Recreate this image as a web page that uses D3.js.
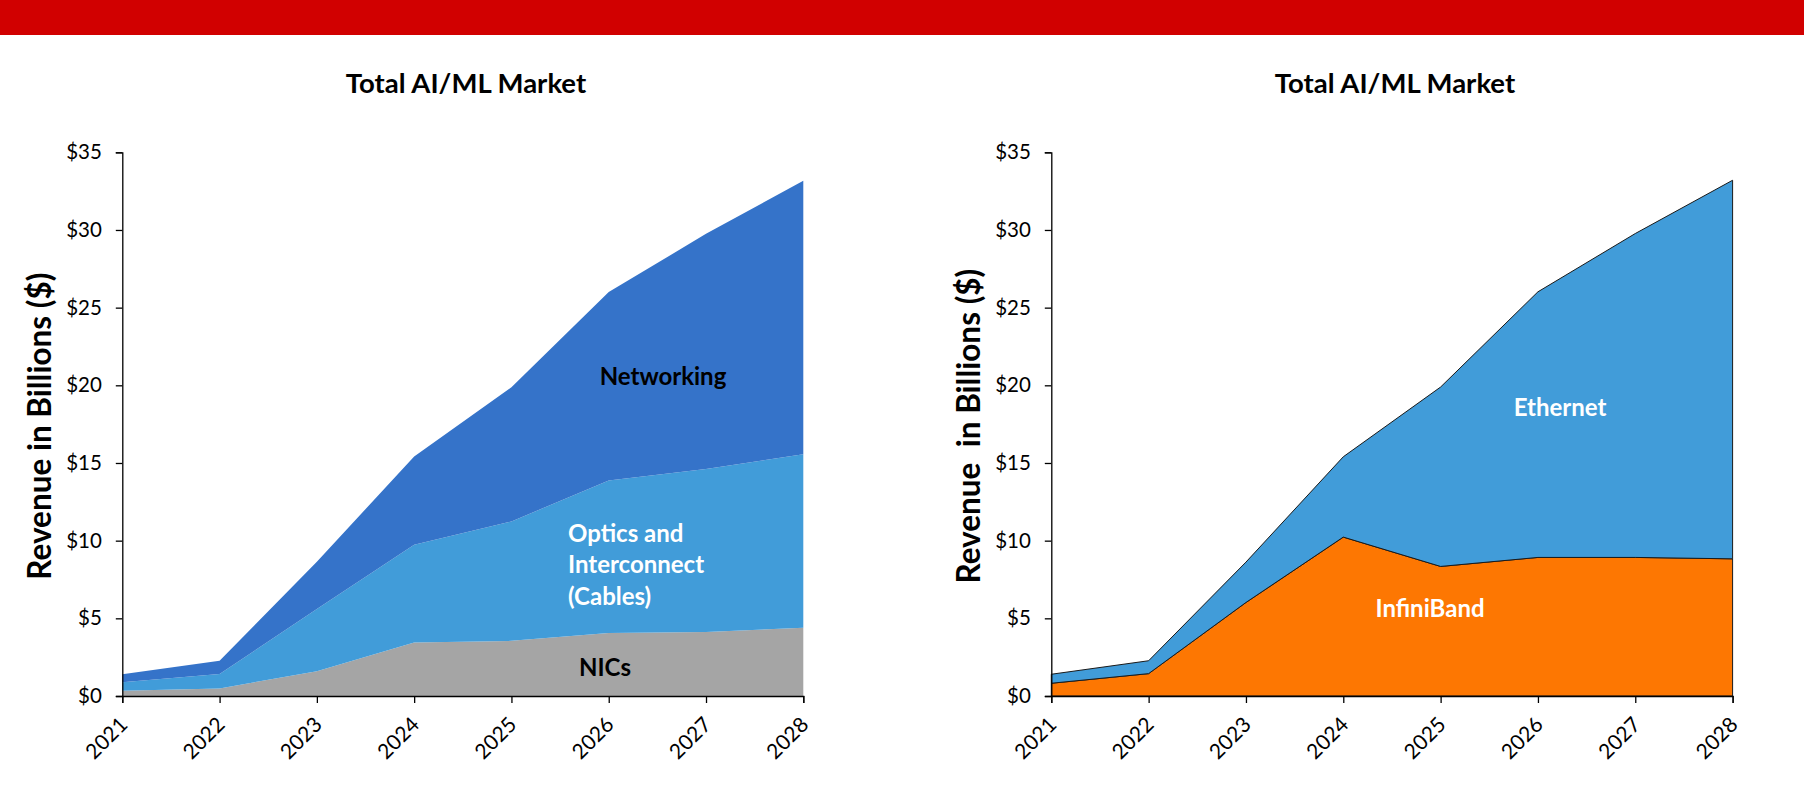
<!DOCTYPE html>
<html>
<head>
<meta charset="utf-8">
<script src="https://cdn.jsdelivr.net/npm/d3@7"></script>
<style>
  html, body { margin: 0; padding: 0; background: #fff; }
  svg { display: block; font-family: Lato, "Open Sans", sans-serif; }
</style>
</head>
<body>
<svg id="chart" width="1804" height="788"></svg>
<script>
// ---------- data ----------
const years = [2021, 2022, 2023, 2024, 2025, 2026, 2027, 2028];
const yTickValues = [0, 5, 10, 15, 20, 25, 30, 35];
const yTickLabels = ["$0", "$5", "$10", "$15", "$20", "$25", "$30", "$35"];

// Left chart: components (stacked, $B)
const nics       = [0.34, 0.49, 1.60, 3.45, 3.55, 4.05, 4.12, 4.39];
const optics     = [0.54, 0.93, 4.00, 6.29, 7.69, 9.82, 10.50, 11.17];
const networking = [0.52, 0.85, 3.04, 5.68, 8.63, 12.13, 15.13, 17.61];

// Right chart: technologies (stacked, $B)
const infiniband = [0.82, 1.44, 6.02, 10.23, 8.34, 8.92, 8.92, 8.83];
const ethernet   = [0.58, 0.83, 2.60, 5.17, 11.55, 17.10, 20.85, 24.37];

const titleText = "Total AI/ML Market";

// ---------- drawing ----------
const svg = d3.select("#chart");

svg.append("rect").attr("x", 0).attr("y", 0).attr("width", 1804).attr("height", 35)
  .attr("fill", "#d10000");

function drawPanel(opts) {
  const { x0, x1, top, bottom, seriesKeys, seriesVals, colors, stroke, yTitle, labels, titleX } = opts;
  const g = svg.append("g");

  const x = d3.scaleLinear().domain([years[0], years[years.length - 1]]).range([x0, x1]);
  const y = d3.scaleLinear().domain([0, 35]).range([bottom, top]);

  const rows = years.map((yr, i) => {
    const r = { year: yr };
    seriesKeys.forEach((k, j) => r[k] = seriesVals[j][i]);
    return r;
  });
  const stacked = d3.stack().keys(seriesKeys)(rows);
  const area = d3.area()
    .x(d => x(d.data.year))
    .y0(d => y(d[0]))
    .y1(d => y(d[1]));

  g.selectAll("path.layer").data(stacked).join("path")
    .attr("class", "layer")
    .attr("d", area)
    .attr("fill", (d, i) => colors[i])
    .attr("stroke", stroke ? "#1a1a1a" : "none")
    .attr("stroke-width", stroke ? 1 : 0)
    .attr("stroke-linejoin", "round");

  // Y axis
  const yAxis = d3.axisLeft(y).tickValues(yTickValues)
    .tickFormat((d, i) => yTickLabels[i]).tickSize(6.5).tickPadding(14);
  const ya = g.append("g").attr("transform", `translate(${x0},0)`).call(yAxis);
  ya.select(".domain").attr("stroke", "#000").attr("stroke-width", 1.3);
  ya.selectAll(".tick line").attr("stroke", "#000").attr("stroke-width", 1.3);
  ya.selectAll(".tick text").attr("fill", "#000").attr("font-size", 20.5)
    .attr("font-family", "Lato, sans-serif");

  // X axis
  const xAxis = d3.axisBottom(x).tickValues(years).tickFormat(d3.format("d")).tickSize(7);
  const xa = g.append("g").attr("transform", `translate(0,${bottom})`).call(xAxis);
  xa.select(".domain").attr("stroke", "#000").attr("stroke-width", 1.3);
  xa.selectAll(".tick line").attr("stroke", "#000").attr("stroke-width", 1.3);
  xa.selectAll(".tick text")
    .attr("fill", "#000").attr("font-size", 21).attr("font-family", "Lato, sans-serif")
    .attr("text-anchor", "end")
    .attr("x", 0).attr("y", 0).attr("dy", 0)
    .attr("transform", "translate(6,30) rotate(-45)");

  // Title
  g.append("text").attr("x", titleX).attr("y", 83).attr("dy", "0.36em")
    .attr("text-anchor", "middle").attr("font-weight", 700).attr("font-size", 27.5)
    .attr("fill", "#000").text(titleText);

  // Y title
  g.append("text")
    .attr("transform", `translate(${x0 - 71},${(top + bottom) / 2 + 2}) rotate(-90)`)
    .attr("text-anchor", "middle").attr("font-weight", 700).attr("font-size", 31.5)
    .attr("fill", "#000").style("white-space", "pre").text(yTitle);

  // in-chart labels
  labels.forEach(l => {
    const t = g.append("text").attr("x", l.x).attr("y", l.y)
      .attr("text-anchor", l.anchor || "middle").attr("font-weight", 700)
      .attr("font-size", l.size || 24).attr("fill", l.color);
    l.lines.forEach((line, i) => {
      t.append("tspan").attr("x", l.x).attr("dy", i === 0 ? "0.36em" : l.lh).text(line);
    });
  });
}

drawPanel({
  x0: 122.3, x1: 803.3, top: 152.3, bottom: 696,
  seriesKeys: ["NICs", "Optics", "Networking"],
  seriesVals: [nics, optics, networking],
  colors: ["#a5a5a5", "#419cd9", "#3573c9"],
  stroke: false,
  yTitle: "Revenue in Billions ($)",
  titleX: 466,
  labels: [
    { x: 663, y: 376, lines: ["Networking"], color: "#000" },
    { x: 568, y: 533, lines: ["Optics and", "Interconnect", "(Cables)"], color: "#fff", anchor: "start", lh: 31.5 },
    { x: 605, y: 667, lines: ["NICs"], color: "#000" }
  ]
});

drawPanel({
  x0: 1051.3, x1: 1732.6, top: 152.3, bottom: 696,
  seriesKeys: ["InfiniBand", "Ethernet"],
  seriesVals: [infiniband, ethernet],
  colors: ["#fd7702", "#419cd9"],
  stroke: true,
  yTitle: "Revenue  in Billions ($)",
  titleX: 1395,
  labels: [
    { x: 1560, y: 407, lines: ["Ethernet"], color: "#fff" },
    { x: 1430, y: 608, lines: ["InfiniBand"], color: "#fff" }
  ]
});
</script>
</body>
</html>
